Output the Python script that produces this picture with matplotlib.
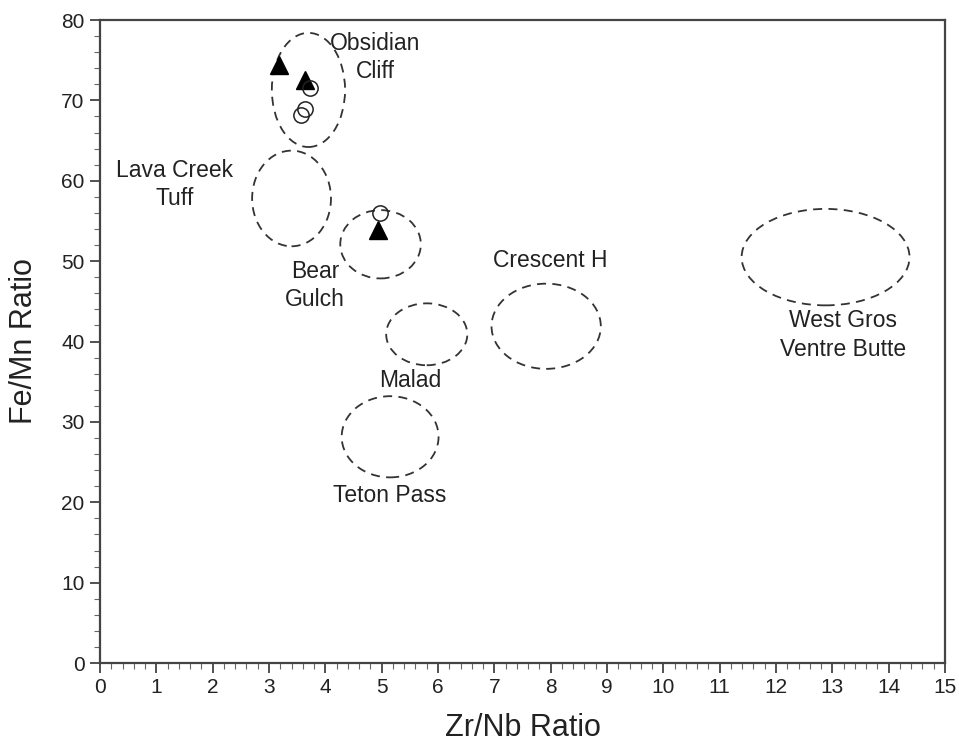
import matplotlib
matplotlib.use("Agg")
import matplotlib.pyplot as plt
from matplotlib.patches import Ellipse
from matplotlib.ticker import MultipleLocator

plt.rcParams['font.family'] = ['Liberation Sans', 'DejaVu Sans']

# Source field ellipses: name, centre x, centre y, width, height
fields = ["Obsidian Cliff", "Lava Creek Tuff", "Bear Gulch", "Malad",
          "Teton Pass", "Crescent H", "West Gros Ventre Butte"]
field_cx = [3.70, 3.40, 4.98, 5.80, 5.15, 7.92, 12.88]
field_cy = [71.3, 57.8, 52.1, 40.9, 28.15, 41.9, 50.5]
field_w = [1.30, 1.40, 1.43, 1.44, 1.72, 1.94, 2.98]
field_h = [14.2, 11.9, 8.5, 7.7, 10.1, 10.6, 12.0]

# Field labels
label_text = ["Obsidian\nCliff", "Lava Creek\nTuff", "Bear\nGulch", "Malad",
              "Teton Pass", "Crescent H", "West Gros\nVentre Butte"]
label_x = [4.88, 1.33, 3.82, 5.50, 5.15, 7.99, 13.19]
label_y = [75.3, 59.5, 47.0, 35.2, 20.9, 50.1, 40.8]

# Artifact samples
tri_x = [3.18, 3.64, 4.94]
tri_y = [74.4, 72.5, 53.9]
circ_x = [3.73, 3.64, 3.56, 4.97]
circ_y = [71.6, 68.9, 68.2, 56.0]

fig = plt.figure(figsize=(9.59, 7.47), dpi=100)
ax = fig.add_axes([0.1043, 0.1124, 0.8811, 0.8608])

for cx, cy, w, h in zip(field_cx, field_cy, field_w, field_h):
    ax.add_patch(Ellipse((cx, cy), w, h, fill=False, edgecolor='#333333',
                         linewidth=1.3, linestyle=(0, (5, 3.5))))

for t, x, y in zip(label_text, label_x, label_y):
    ax.text(x, y, t, ha='center', va='center', fontsize=16.5, color='#222222',
            linespacing=1.3)

ax.plot(tri_x, tri_y, linestyle='none', marker='^', markersize=12.5,
        markerfacecolor='black', markeredgecolor='black', zorder=3)
ax.plot(circ_x, circ_y, linestyle='none', marker='o', markersize=11,
        markerfacecolor='none', markeredgecolor='#222222', markeredgewidth=1.1,
        zorder=4)

ax.set_xlim(0, 15)
ax.set_ylim(0, 80)
ax.xaxis.set_major_locator(MultipleLocator(1))
ax.xaxis.set_minor_locator(MultipleLocator(0.2))
ax.yaxis.set_major_locator(MultipleLocator(10))
ax.yaxis.set_minor_locator(MultipleLocator(2))
ax.tick_params(which='major', direction='out', length=7, width=1.2,
               labelsize=15, colors='#333333', labelcolor='#222222', pad=4)
ax.tick_params(which='minor', direction='out', length=4, width=0.8,
               colors='#666666')
ax.tick_params(top=False, right=False)
for s in ax.spines.values():
    s.set_linewidth(1.6)
    s.set_color('#444444')

ax.set_xlabel("Zr/Nb Ratio", fontsize=22, color='#222222', labelpad=11)
ax.set_ylabel("Fe/Mn Ratio", fontsize=22, color='#222222', labelpad=16)

fig.savefig("out.png", dpi=100)
